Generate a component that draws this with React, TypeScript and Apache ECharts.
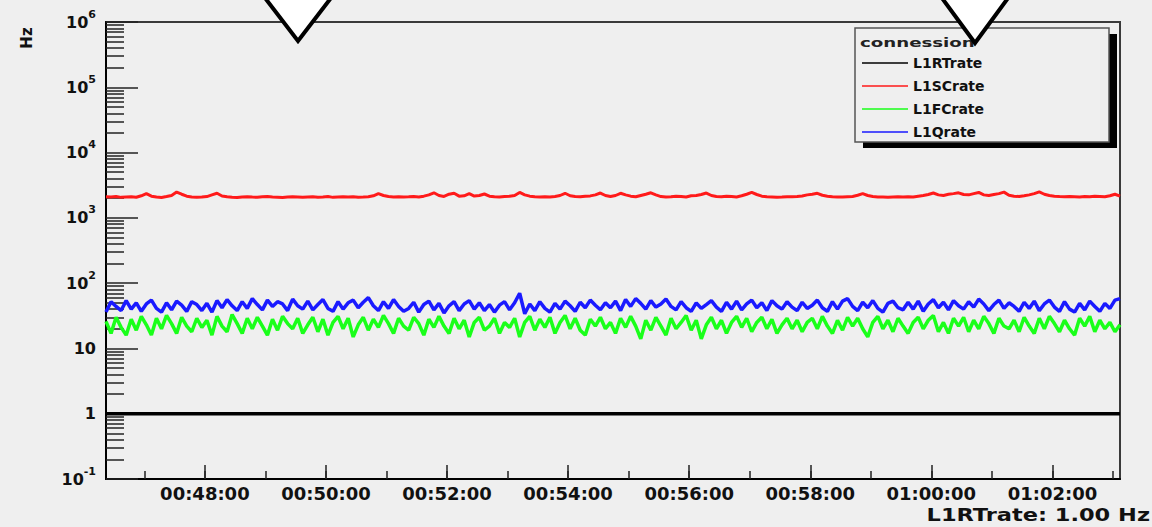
import React, { useEffect, useRef } from 'react';
import * as echarts from 'echarts';

// ---- data ----
const seriesNames = ['L1RTrate', 'L1SCrate', 'L1FCrate', 'L1Qrate'];
const axisStart = '00:46:22';
const axisEnd = '01:03:07';
const sampleStepSeconds = 5;

const xTickLabels = ['00:48:00', '00:50:00', '00:52:00', '00:54:00', '00:56:00', '00:58:00', '01:00:00', '01:02:00'];
const xMinorTickLabels = ['00:47:00', '00:48:00', '00:49:00', '00:50:00', '00:51:00', '00:52:00', '00:53:00', '00:54:00', '00:55:00', '00:56:00', '00:57:00', '00:58:00', '00:59:00', '01:00:00', '01:01:00', '01:02:00', '01:03:00'];
const yTickValues = [0.1, 1, 10, 100, 1000, 10000, 100000, 1000000];

const l1rtRate = [1, 1];

const l1scRate = [
  2100, 2080, 2120, 2060, 2090, 2110, 2070, 2180, 2350, 2150, 2080, 2050, 2120, 2200, 2480, 2300, 2150, 2090, 2060, 2080,
  2120, 2250, 2380, 2160, 2100, 2070, 2050, 2090, 2110, 2080, 2060, 2100, 2130, 2090, 2070, 2050, 2080, 2110, 2090, 2060,
  2080, 2100, 2070, 2090, 2120, 2060, 2080, 2100, 2090, 2110, 2070, 2080, 2100, 2180, 2350, 2200, 2120, 2090, 2110, 2080,
  2100, 2130, 2090, 2150, 2250, 2420, 2200, 2130, 2300, 2380, 2150, 2180, 2350, 2160, 2200, 2320, 2150, 2100, 2090, 2120,
  2150, 2200, 2450, 2250, 2150, 2100, 2080, 2110, 2090, 2130, 2200, 2380, 2180, 2120, 2100, 2150, 2170, 2250, 2400, 2200,
  2120, 2200, 2380, 2250, 2150, 2100, 2200, 2300, 2420, 2250, 2120, 2080, 2100, 2150, 2130, 2090, 2180, 2200, 2280, 2400,
  2200, 2130, 2100, 2150, 2120, 2090, 2180, 2300, 2450, 2280, 2150, 2100, 2090, 2060, 2080, 2110, 2100, 2120, 2160, 2250,
  2300, 2380, 2220, 2150, 2100, 2080, 2090, 2110, 2130, 2220, 2350, 2200, 2120, 2090, 2080, 2060, 2090, 2100, 2080, 2110,
  2090, 2150, 2200, 2280, 2400, 2250, 2200, 2300, 2350, 2420, 2280, 2250, 2350, 2450, 2250, 2200, 2280, 2350, 2480, 2220,
  2150, 2120, 2180, 2250, 2350, 2500, 2300, 2200, 2150, 2120, 2100, 2130, 2110, 2090, 2120, 2100, 2150, 2130, 2100, 2180,
  2300, 2150,
];

const l1fcRate = [
  26, 17, 30, 21, 16, 28, 19, 31, 23, 16, 29, 20, 32, 24, 17, 30, 22, 18, 29, 21,
  27, 16, 31, 22, 18, 33, 24, 17, 29, 20, 30, 22, 16, 28, 19, 31, 24, 20, 29, 17,
  23, 30, 18, 28, 16, 25, 31, 20, 29, 15, 23, 30, 19, 28, 21, 32, 24, 17, 29, 22,
  19, 30, 24, 16, 28, 21, 31, 22, 17, 29, 20, 27, 15, 25, 30, 19, 22, 29, 17, 25,
  21, 29, 15, 25, 31, 19, 28, 21, 30, 17, 25, 32, 20, 29, 19, 16, 28, 22, 30, 20,
  25, 17, 29, 21, 31, 22, 14, 27, 19, 30, 22, 16, 29, 20, 25, 32, 19, 27, 14, 23,
  30, 20, 27, 17, 25, 31, 21, 29, 18, 25, 30, 20, 28, 17, 23, 29, 20, 27, 18, 25,
  29, 20, 31, 22, 17, 27, 19, 30, 22, 29, 20, 15, 25, 31, 20, 27, 18, 29, 22, 17,
  25, 30, 20, 27, 32, 18, 25, 17, 29, 22, 30, 18, 27, 20, 31, 24, 17, 29, 22, 20,
  27, 18, 30, 22, 17, 29, 20, 31, 24, 18, 27, 20, 16, 29, 22, 31, 18, 27, 20, 25,
  18, 23,
];

const l1qRate = [
  36, 52, 44, 38, 54, 40, 50, 37, 48, 55, 41, 36, 50, 39, 53, 46, 37, 52, 47, 38,
  49, 36, 54, 42, 56, 45, 38, 52, 41, 58, 47, 39, 55, 44, 52, 48, 38, 57, 45, 40,
  53, 39, 47, 56, 41, 37, 52, 40, 50, 55, 42, 51, 60, 45, 38, 52, 41, 56, 44, 37,
  41, 51, 36, 47, 53, 39, 49, 35, 45, 52, 38, 48, 54, 40, 50, 38, 47, 36, 46, 52,
  39, 50, 70, 34, 48, 38, 52, 41, 36, 49, 40, 53, 45, 37, 51, 42, 55, 46, 39, 50,
  42, 53, 38, 56, 44, 58, 49, 40, 54, 43, 48, 57, 44, 39, 52, 42, 37, 50, 41, 47,
  54, 43, 37, 51, 40, 53, 39, 48, 55, 42, 50, 38, 54, 45, 40, 52, 43, 38, 51, 41,
  46, 55, 42, 37, 52, 40, 53, 58, 44, 38, 51, 42, 54, 41, 36, 49, 53, 42, 39, 51,
  40, 53, 37, 48, 56, 42, 51, 39, 54, 45, 40, 52, 43, 57, 48, 38, 47, 55, 41, 50,
  44, 37, 51, 41, 53, 38, 48, 55, 43, 37, 52, 40, 36, 49, 39, 53, 44, 37, 49, 41,
  55, 58,
];

const seriesColors = ['#000000', '#ff1a1a', '#1aff1a', '#1a1aff'];

// ---- helpers ----
const toSec = (s: string) => {
  const [h, m, sec] = s.split(':').map(Number);
  return h * 3600 + m * 60 + sec;
};
const pad = (n: number) => String(n).padStart(2, '0');
const fmtTime = (v: number) => {
  const t = Math.round(v);
  return `${pad(Math.floor(t / 3600))}:${pad(Math.floor((t % 3600) / 60))}:${pad(t % 60)}`;
};

const FONT = 'DejaVu Sans';

export default function App() {
  const ref = useRef<HTMLDivElement>(null);
  useEffect(() => {
    if (!ref.current) return;
    const chart = echarts.init(ref.current, null, { renderer: 'svg' });
    const t0 = toSec(axisStart);
    const t1 = toSec(axisEnd);
    const xs = (arr: number[]) => arr.map((v, i) => [t0 + i * sampleStepSeconds, v]);
    const xMajor = xTickLabels.map(toSec);
    const xMinor = xMinorTickLabels.map(toSec);
    const yMinor: number[] = [];
    for (let e = -1; e < 6; e++) {
      for (let k = 2; k <= 9; k++) yMinor.push(Number((k * Math.pow(10, e)).toPrecision(3)));
    }
    const yFmt = (v: number) => {
      const e = Math.round(Math.log10(v));
      if (e === 0) return '{b|1}';
      if (e === 1) return '{b|10}';
      return '{b|10}{s|' + e + '}';
    };
    const tickLine = { color: '#222', width: 1.5 };
    const option: any = {
      animation: false,
      backgroundColor: '#efefef',
      textStyle: { fontFamily: FONT },
      grid: {
        left: 106, right: 32, top: 22, bottom: 48,
        show: true, borderColor: '#3a3a3a', borderWidth: 2, backgroundColor: 'transparent',
        outerBoundsMode: 'none',
      },
      xAxis: [
        {
          type: 'value', min: t0, max: t1, position: 'bottom',
          axisLine: { show: true, lineStyle: { color: '#000', width: 2 } },
          axisTick: { show: true, inside: true, length: 14, lineStyle: tickLine, customValues: xMajor },
          axisLabel: {
            customValues: xMajor, formatter: fmtTime, fontSize: 18, fontWeight: 'bold',
            color: '#111', margin: 5, fontFamily: FONT,
          },
          splitLine: { show: false },
        },
        {
          type: 'value', min: t0, max: t1, position: 'bottom',
          axisLine: { show: false },
          axisTick: { show: true, inside: true, length: 8, lineStyle: tickLine, customValues: xMinor },
          axisLabel: { show: false },
          splitLine: { show: false },
        },
      ],
      yAxis: [
        {
          type: 'log', logBase: 10, min: 0.1, max: 1000000, position: 'left',
          axisLine: { show: true, lineStyle: { color: '#000', width: 2 } },
          axisTick: { show: true, inside: true, length: 32, lineStyle: tickLine, customValues: yTickValues },
          axisLabel: {
            customValues: yTickValues, formatter: yFmt, margin: 10,
            rich: {
              b: { fontSize: 16, fontWeight: 'bold', color: '#111', fontFamily: FONT, lineHeight: 27 },
              s: { fontSize: 11, fontWeight: 'bold', color: '#111', fontFamily: FONT, verticalAlign: 'top' },
            },
          },
          splitLine: { show: false },
        },
        {
          type: 'log', logBase: 10, min: 0.1, max: 1000000, position: 'left',
          axisLine: { show: false },
          axisTick: { show: true, inside: true, length: 18, lineStyle: tickLine, customValues: yMinor },
          axisLabel: { show: false },
          splitLine: { show: false },
        },
      ],
      legend: {
        show: true, left: 862, top: 55, padding: 0, orient: 'vertical',
        itemWidth: 46, itemHeight: 1.5, itemGap: 7, icon: 'rect', selectedMode: false, z: 5,
        textStyle: { fontSize: 14, fontWeight: 'bold', color: '#111', fontFamily: FONT, lineHeight: 16 },
        data: seriesNames,
      },
      graphic: [
        { type: 'rect', z: 1, shape: { x: 863, y: 34, width: 254, height: 114 }, style: { fill: '#000' } },
        { type: 'rect', z: 2, shape: { x: 855, y: 28, width: 254, height: 114 }, style: { fill: '#efefef', stroke: '#555', lineWidth: 1.5 } },
        {
          type: 'text', z: 6, x: 860, y: 42, scaleX: 1.4,
          style: { text: 'connession', font: `bold 13px "${FONT}"`, fill: '#222', align: 'left', verticalAlign: 'middle' },
        },
        {
          type: 'text', z: 6, x: 27, y: 38, rotation: Math.PI / 2,
          style: { text: 'Hz', font: `bold 15px "${FONT}"`, fill: '#111', align: 'center', verticalAlign: 'middle' },
        },
        {
          type: 'text', z: 6, x: 1150, y: 515, scaleX: 1.25,
          style: { text: 'L1RTrate: 1.00 Hz', font: `bold 18px "${FONT}"`, fill: '#111', align: 'right', verticalAlign: 'middle' },
        },
        {
          type: 'polygon', z: 10, shape: { points: [[262, -6], [334, -6], [298, 41]] },
          style: { fill: '#ffffff', stroke: '#000', lineWidth: 4 },
        },
        {
          type: 'polygon', z: 10, shape: { points: [[939, -6], [1011, -6], [975, 43]] },
          style: { fill: '#ffffff', stroke: '#000', lineWidth: 4 },
        },
      ],
      series: [
        {
          name: seriesNames[0], type: 'line', xAxisIndex: 0, yAxisIndex: 0, showSymbol: false,
          data: [[t0, l1rtRate[0]], [t1, l1rtRate[1]]],
          lineStyle: { color: seriesColors[0], width: 3.5 }, itemStyle: { color: seriesColors[0] },
        },
        {
          name: seriesNames[1], type: 'line', xAxisIndex: 0, yAxisIndex: 0, showSymbol: false,
          data: xs(l1scRate), lineStyle: { color: seriesColors[1], width: 3 }, itemStyle: { color: seriesColors[1] },
        },
        {
          name: seriesNames[2], type: 'line', xAxisIndex: 0, yAxisIndex: 0, showSymbol: false,
          data: xs(l1fcRate), lineStyle: { color: seriesColors[2], width: 3.5 }, itemStyle: { color: seriesColors[2] },
        },
        {
          name: seriesNames[3], type: 'line', xAxisIndex: 0, yAxisIndex: 0, showSymbol: false,
          data: xs(l1qRate), lineStyle: { color: seriesColors[3], width: 3.5 }, itemStyle: { color: seriesColors[3] },
        },
      ],
    };
    chart.setOption(option);
    return () => chart.dispose();
  }, []);
  return (
    <div
      ref={ref}
      style={{ position: 'fixed', left: 0, top: 0, width: 1152, height: 527, background: '#efefef' }}
    />
  );
}
